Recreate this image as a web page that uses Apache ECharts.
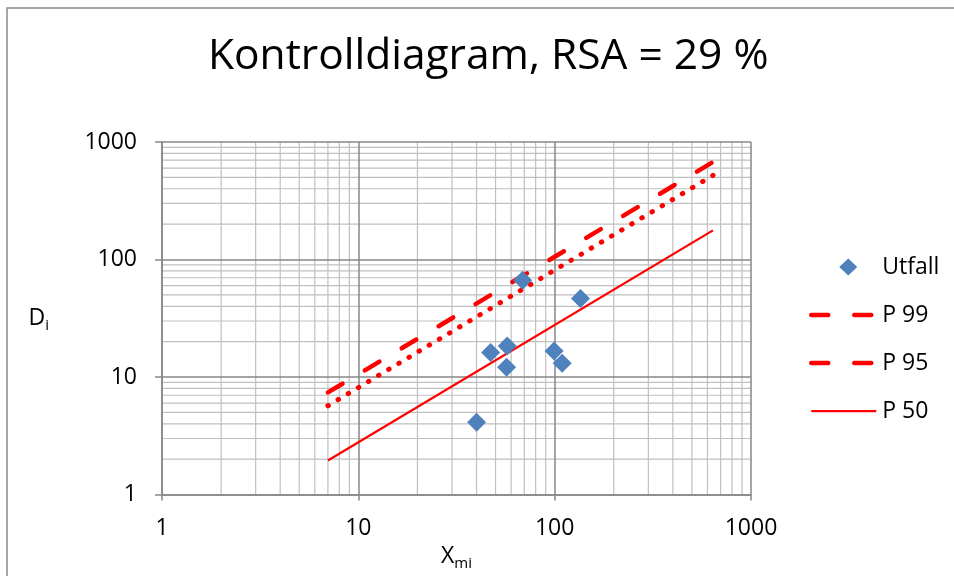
<!DOCTYPE html>
<html>
<head>
<meta charset="utf-8">
<script src="https://cdn.jsdelivr.net/npm/echarts@6/dist/echarts.min.js"></script>
<style>
  html, body { margin: 0; padding: 0; background: #ffffff; }
  #chart { width: 954px; height: 576px; }
</style>
</head>
<body>
<div id="chart"></div>
<script>
// Observed results (X_mi, D_i)
const xmi = [40.0, 47.2, 56.9, 57.3, 68.7, 99.4, 109.2, 135.4];
const di  = [4.13, 16.2, 12.1, 18.4, 66.8, 16.7, 13.1, 46.7];

// Percentile control limits, straight lines on log-log axes
const limitX = [7, 640];
const p99 = [7.4, 675];
const p95 = [5.7, 520];
const p50 = [1.95, 177];

// Log axis decades and the in-between multiples used for the fine grid
const decades = [1, 10, 100];
const multiples = [2, 3, 4, 5, 6, 7, 8, 9];
const axisMin = 1;
const axisMax = 1000;

const FONT = '"Open Sans", "Liberation Sans", sans-serif';
const RED = '#ff0000';
const BLUE = '#4f81bd';
const MAJOR = '#878787';
const MINOR = '#c0c0c0';

const pairs = (xs, ys) => xs.map((x, i) => [x, ys[i]]);

// Build minor grid as broken line segments through the axes' own scales
const minorValues = [];
decades.forEach(d => multiples.forEach(m => minorValues.push(d * m)));
const minorGrid = [];
minorValues.forEach(v => {
  minorGrid.push([v, axisMin], [v, axisMax], '-');
  minorGrid.push([axisMin, v], [axisMax, v], '-');
});

const dashStyle = { color: RED, width: 4.5, type: [17, 26], cap: 'round' };
const dotStyle  = { color: RED, width: 5, type: [0.5, 11.3], cap: 'round' };
const solidStyle = { color: RED, width: 2.25, type: 'solid' };
// Line entries in the legend show only the stroke, no marker
const hiddenMarker = { color: 'rgba(0,0,0,0)', borderWidth: 0, opacity: 0 };
// Legend diamond: the zero-length corner segments fix the icon box to the
// full legend item size so the diamond keeps its shape instead of stretching
const legendDiamond = 'path://M0,0L0.01,0M65,17L65.01,17M37,0L46,8.5L37,17L28,8.5Z';

const plainNumber = v => String(Math.round(v));

const subRich = {
  a: { fontFamily: FONT, fontSize: 23, lineHeight: 30, verticalAlign: 'middle', color: '#000' },
  b: { fontFamily: FONT, fontSize: 15, lineHeight: 15, verticalAlign: 'bottom', color: '#000' }
};

const chart = echarts.init(document.getElementById('chart'), null, { renderer: 'canvas' });

chart.setOption({
  animation: false,
  backgroundColor: '#ffffff',
  textStyle: { fontFamily: FONT },
  graphic: [{
    type: 'rect',
    silent: true,
    shape: { x: 7, y: 8, width: 980, height: 600 },
    style: { fill: 'none', stroke: '#8a8a8a', lineWidth: 1.5 }
  }],
  title: {
    text: 'Kontrolldiagram, RSA = 29 %',
    left: 203,
    top: 30,
    textStyle: { fontFamily: FONT, fontSize: 42.5, fontWeight: 'normal', color: '#000000' }
  },
  grid: { left: 162, right: 203, top: 142, bottom: 80 },
  legend: {
    orient: 'vertical',
    left: 804,
    top: 250,
    itemWidth: 65,
    itemHeight: 17,
    itemGap: 24,
    textStyle: { fontFamily: FONT, fontSize: 23, color: '#000000', lineHeight: 24, padding: [0, 0, 0, 1] },
    data: [
      { name: 'Utfall', icon: legendDiamond, itemStyle: { color: BLUE, opacity: 1, borderWidth: 0 } },
      { name: 'P 99', lineStyle: dashStyle, itemStyle: hiddenMarker },
      { name: 'P 95', lineStyle: dashStyle, itemStyle: hiddenMarker },
      { name: 'P 50', lineStyle: solidStyle, itemStyle: hiddenMarker }
    ]
  },
  xAxis: {
    type: 'log',
    logBase: 10,
    min: axisMin,
    max: axisMax,
    z: 1,
    name: '{a|X}{b|mi}',
    nameLocation: 'middle',
    nameGap: 45,
    nameTextStyle: { color: '#000000', verticalAlign: 'top', rich: subRich },
    axisLine: { onZero: false, lineStyle: { color: MAJOR, width: 1.5 } },
    axisTick: { show: true, inside: false, length: 6, lineStyle: { color: MAJOR, width: 1.5 } },
    axisLabel: { fontFamily: FONT, fontSize: 23, color: '#000000', margin: 22, formatter: plainNumber },
    splitLine: { show: true, lineStyle: { color: MAJOR, width: 1.5 } },
    minorTick: { show: false },
    minorSplitLine: { show: false }
  },
  yAxis: {
    type: 'log',
    logBase: 10,
    min: axisMin,
    max: axisMax,
    z: 1,
    name: '{a|D}{b|i}',
    nameLocation: 'middle',
    nameRotate: 0,
    nameGap: 113,
    nameTextStyle: { color: '#000000', align: 'right', rich: subRich },
    axisLine: { onZero: false, lineStyle: { color: MAJOR, width: 1.5 } },
    axisTick: { show: true, inside: false, length: 7, lineStyle: { color: MAJOR, width: 1.5 } },
    axisLabel: { fontFamily: FONT, fontSize: 23, color: '#000000', margin: 25, formatter: plainNumber },
    splitLine: { show: true, lineStyle: { color: MAJOR, width: 1.5 } },
    minorTick: { show: false },
    minorSplitLine: { show: false }
  },
  series: [
    {
      name: 'grid-minor',
      type: 'line',
      z: 0,
      silent: true,
      showSymbol: false,
      symbol: 'none',
      connectNulls: false,
      lineStyle: { color: MINOR, width: 1.2 },
      data: minorGrid,
      legendHoverLink: false
    },
    {
      name: 'Utfall',
      type: 'scatter',
      symbol: 'diamond',
      symbolSize: 19,
      itemStyle: { color: BLUE, opacity: 1 },
      z: 4,
      data: pairs(xmi, di)
    },
    {
      name: 'P 99',
      type: 'line',
      showSymbol: false,
      symbol: 'none',
      lineStyle: dashStyle,
      itemStyle: { color: RED },
      z: 3,
      data: pairs(limitX, p99)
    },
    {
      name: 'P 95',
      type: 'line',
      showSymbol: false,
      symbol: 'none',
      lineStyle: dotStyle,
      itemStyle: { color: RED },
      z: 3,
      data: pairs(limitX, p95)
    },
    {
      name: 'P 50',
      type: 'line',
      showSymbol: false,
      symbol: 'none',
      lineStyle: solidStyle,
      itemStyle: { color: RED },
      z: 3,
      data: pairs(limitX, p50)
    }
  ]
});
</script>
</body>
</html>
